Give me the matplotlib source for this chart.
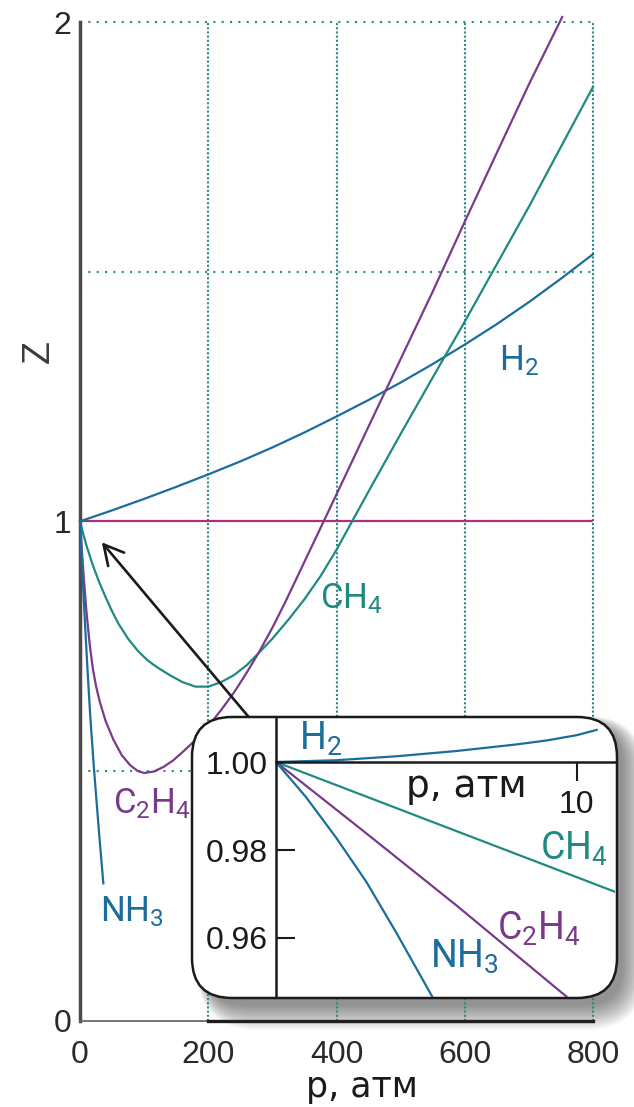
import matplotlib
matplotlib.use("Agg")
import matplotlib.pyplot as plt
from matplotlib.patches import FancyBboxPatch

plt.rcParams['mathtext.fontset'] = 'custom'
plt.rcParams['mathtext.rm'] = 'Roboto'
plt.rcParams['mathtext.default'] = 'regular'

# compressibility factor Z against pressure, atm
p_h2 = [0, 50, 100, 150, 200, 250, 300, 350, 400, 450, 500, 550, 600, 650,
        700, 750, 800]
z_h2 = [1.0, 1.022, 1.045, 1.069, 1.094, 1.12, 1.148, 1.178, 1.21, 1.243,
        1.278, 1.315, 1.354, 1.395, 1.439, 1.486, 1.535]

p_ch4 = [0, 5, 10, 20, 30, 40, 50, 60, 75, 90, 105, 120, 130, 140, 160, 180,
         200, 220, 240, 260, 280, 300, 325, 350, 375, 400, 450, 500, 550, 600,
         650, 700, 750, 800]
z_ch4 = [1.0, 0.975, 0.952, 0.912, 0.878, 0.848, 0.82, 0.795, 0.765, 0.741,
         0.722, 0.708, 0.700, 0.692, 0.678, 0.669, 0.669, 0.678, 0.692, 0.712,
         0.738, 0.765, 0.803, 0.844, 0.89, 0.943, 1.06, 1.175, 1.288, 1.40,
         1.515, 1.63, 1.75, 1.87]

p_c2h4 = [0, 3, 6, 10, 15, 20, 25, 31, 40, 52, 65, 78, 90, 100, 115, 130,
          145, 160, 180, 200, 220, 240, 260, 280, 300, 320, 340, 360, 380,
          400, 450, 500, 550, 600, 650, 700, 752]
z_c2h4 = [1.0, 0.94, 0.885, 0.82, 0.755, 0.705, 0.67, 0.638, 0.600, 0.563,
          0.532, 0.512, 0.500, 0.496, 0.499, 0.508, 0.521, 0.538, 0.562, 0.590,
          0.622, 0.657, 0.697, 0.74, 0.787, 0.838, 0.892, 0.946, 1.0, 1.054,
          1.19, 1.325, 1.46, 1.6, 1.738, 1.875, 2.01]

p_nh3 = [0, 3, 6, 9, 12.5, 16, 20.8, 25, 30, 36.4]
z_nh3 = [1.0, 0.918, 0.84, 0.766, 0.685, 0.61, 0.522, 0.452, 0.372, 0.275]

p_ideal = [0, 800]
z_ideal = [1.0, 1.0]

x_ticks = [0, 200, 400, 600, 800]
y_ticks = [0, 1, 2]
grid_x = [200, 400, 600, 800]
grid_y = [0.5, 1.0, 1.5, 2.0]

# low-pressure close-up
ip_h2 = [0, 2, 4, 6, 8, 9, 10, 10.66]
iz_h2 = [1.0, 1.0004, 1.0013, 1.0025, 1.0040, 1.0049, 1.0061, 1.0073]
ip_ch4 = [0, 5.5, 11.27]
iz_ch4 = [1.0, 0.9856, 0.9705]
ip_c2h4 = [0, 3, 6, 9.67]
iz_c2h4 = [1.0, 0.9838, 0.9674, 0.9466]
ip_nh3 = [0, 1, 2, 3, 4, 5.2]
iz_nh3 = [1.0, 0.9920, 0.9828, 0.9728, 0.9612, 0.9466]
inset_yticks = [0.96, 0.98, 1.00]
inset_xticks = [10]

BLUE = '#1b6d9b'
TEAL = '#1f8a80'
PURPLE = '#7a3a8c'
PINK = '#a8327f'
GRID = '#2b8a86'

W, H = 634, 1107
fig = plt.figure(figsize=(W / 100, H / 100), dpi=100)


def fpos(x, y):
    return x / W, 1 - y / H


# ---- main axes ----
ax = fig.add_axes([80 / W, 1 - 1020.7 / H, 513 / W, 998.7 / H])
ax.set_zorder(1)
ax.set_xlim(0, 800)
ax.set_ylim(0, 2)

for gx in grid_x:
    ax.plot([gx, gx], [0, 2], color=GRID, lw=1.5, ls=(0, (1, 1)),
            clip_on=False, zorder=1)
for gy in grid_y:
    ax.plot([0, 800], [gy, gy], color=GRID, lw=1.5, ls=(0, (1, 3)),
            clip_on=False, zorder=1)

ax.plot(p_ideal, z_ideal, color=PINK, lw=1.6, zorder=2)
ax.plot(p_h2, z_h2, color=BLUE, lw=1.6, zorder=3, clip_on=False)
ax.plot(p_ch4, z_ch4, color=TEAL, lw=1.6, zorder=3, clip_on=False)
ax.plot(p_c2h4, z_c2h4, color=PURPLE, lw=1.6, zorder=3, clip_on=False)
ax.plot(p_nh3, z_nh3, color=BLUE, lw=1.6, zorder=3)

ax.annotate('', xy=(34, 0.958), xytext=(275, 0.59),
            arrowprops=dict(arrowstyle='->,head_length=1.4,head_width=0.75',
                            color='#1a1a1a', lw=1.9, shrinkA=0, shrinkB=0),
            zorder=4)

for s in ['top', 'right', 'bottom']:
    ax.spines[s].set_visible(False)
ax.spines['left'].set_color('#4a4a4a')
ax.spines['left'].set_linewidth(2.5)
# p axis: thin first segment, heavy rule from 200 on
ax.plot([0, 200], [0, 0], color='#6a6a6a', lw=1.3, clip_on=False, zorder=5)
ax.plot([200, 800], [0, 0], color='#1e1e1e', lw=2.4, clip_on=False, zorder=5)
ax.set_xticks(x_ticks)
ax.set_yticks(y_ticks)
ax.tick_params(length=0, labelsize=23, colors='#2a2a2a')
ax.tick_params(axis='x', pad=14)
ax.tick_params(axis='y', pad=6)
for lab in ax.get_xticklabels() + ax.get_yticklabels():
    lab.set_fontfamily('Liberation Sans')
ax.patch.set_alpha(0)

fig.text(*fpos(362, 1097), 'p, атм', fontsize=25, family='DejaVu Sans',
         ha='center', va='baseline', color='#1a1a1a')
fig.text(*fpos(39, 352), 'Z', fontsize=27, family='Liberation Sans',
         rotation=90, ha='center', va='center', color='#3a3a3a')

lab_kw = dict(family='Roboto', fontsize=25, ha='left', va='baseline')
fig.text(*fpos(499, 370), 'H$_2$', color=BLUE, **lab_kw)
fig.text(*fpos(320, 608), 'CH$_4$', color=TEAL, **lab_kw)
fig.text(*fpos(113, 813), 'C$_2$H$_4$', color=PURPLE, **lab_kw)
fig.text(*fpos(100, 921), 'NH$_3$', color=BLUE, **lab_kw)

# ---- inset frame with soft shadow (drawn under the main axes lines) ----
bx0, by0, bx1, by1 = 192, 717, 617, 998
for g in range(0, 26, 2):
    left = bx0 + 14 - 0.4 * g
    top = by0 + 8 - 0.4 * g
    right = bx1 + 6 + g
    bottom = by1 + 8 + g
    sh = FancyBboxPatch((left / 100, (H - bottom) / 100),
                        (right - left) / 100, (bottom - top) / 100,
                        boxstyle=f"round,pad=0,rounding_size={(40 + g) / 100}",
                        transform=fig.dpi_scale_trans, facecolor='black',
                        edgecolor='none', alpha=0.038, zorder=0.5)
    fig.add_artist(sh)
box = FancyBboxPatch((bx0 / 100, (H - by1) / 100),
                     (bx1 - bx0) / 100, (by1 - by0) / 100,
                     boxstyle="round,pad=0,rounding_size=0.40",
                     transform=fig.dpi_scale_trans, facecolor='white',
                     edgecolor='#1a1a1a', lw=1.8, zorder=1.5)
fig.add_artist(box)

# ---- inset axes ----
iax = fig.add_axes([276 / W, 1 - 997 / H, 339 / W, 280 / H])
iax.set_zorder(3)
iax.patch.set_alpha(0)
iax.set_xlim(0, 11.27)
iax.set_ylim(0.94659, 1.01023)

iax.plot(ip_h2, iz_h2, color=BLUE, lw=1.6)
iax.plot(ip_ch4, iz_ch4, color=TEAL, lw=1.6)
iax.plot(ip_c2h4, iz_c2h4, color=PURPLE, lw=1.6)
iax.plot(ip_nh3, iz_nh3, color=BLUE, lw=1.6)

for s in ['top', 'right']:
    iax.spines[s].set_visible(False)
iax.spines['bottom'].set_position(('data', 1.0))
for s in ['left', 'bottom']:
    iax.spines[s].set_color('#1a1a1a')
    iax.spines[s].set_linewidth(1.8)
iax.set_yticks(inset_yticks)
iax.set_yticklabels([f'{v:.2f}' for v in inset_yticks])
iax.set_xticks(inset_xticks)
iax.tick_params(axis='y', direction='in', length=14, width=1.5, pad=6,
                labelsize=23, colors='#1a1a1a')
iax.tick_params(axis='x', direction='out', length=14, width=1.5, pad=6,
                labelsize=23, colors='#1a1a1a')
for lab in iax.get_xticklabels() + iax.get_yticklabels():
    lab.set_fontfamily('Liberation Sans')

fig.text(*fpos(406, 797), 'p, атм', fontsize=27, family='DejaVu Sans',
         ha='left', va='baseline', color='#1a1a1a', zorder=4)
ilab_kw = dict(family='Roboto', fontsize=27, ha='left', va='baseline', zorder=4)
fig.text(*fpos(299, 750), 'H$_2$', color=BLUE, **ilab_kw)
fig.text(*fpos(540, 860), 'CH$_4$', color=TEAL, **ilab_kw)
fig.text(*fpos(497, 940), 'C$_2$H$_4$', color=PURPLE, **ilab_kw)
fig.text(*fpos(430, 968), 'NH$_3$', color=BLUE, **ilab_kw)

fig.savefig('out.png', dpi=100)
